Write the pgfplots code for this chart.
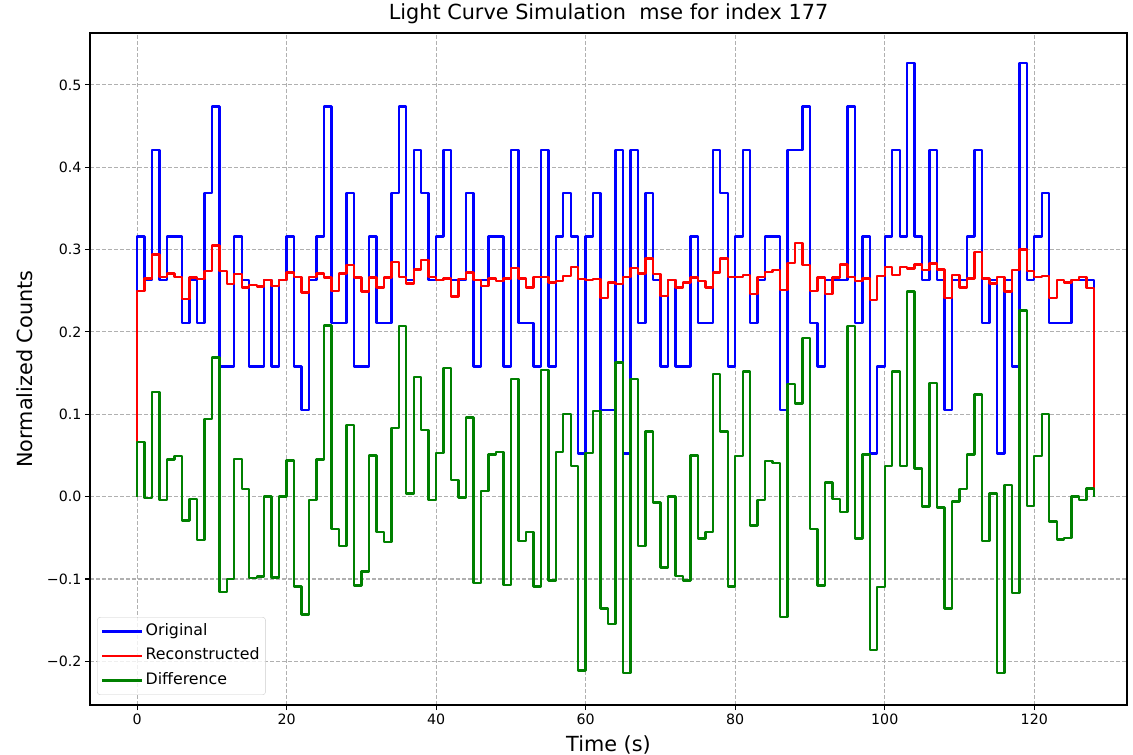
\documentclass[border=0pt]{standalone}
\usepackage{pgfplots}
\usepackage{pgfplotstable}
\pgfplotsset{compat=1.18}
\usepackage{fontspec}
\setmainfont{DejaVu Sans}
\definecolor{mplgreen}{RGB}{0,128,0}

\pgfplotstableread{
t o r d
0 0 0 0
0 0.31579 0.250 0.066
1 0.26316 0.265 -0.002
2 0.42105 0.294 0.127
3 0.26316 0.267 -0.004
4 0.31579 0.271 0.045
5 0.31579 0.267 0.049
6 0.21053 0.240 -0.029
7 0.26316 0.266 -0.003
8 0.21053 0.264 -0.053
9 0.36842 0.274 0.094
10 0.47368 0.305 0.169
11 0.15789 0.274 -0.116
12 0.15789 0.258 -0.100
13 0.31579 0.270 0.046
14 0.26316 0.254 0.009
15 0.15789 0.257 -0.099
16 0.15789 0.255 -0.097
17 0.26316 0.263 0.000
18 0.15789 0.256 -0.098
19 0.26316 0.263 0.000
20 0.31579 0.272 0.044
21 0.15789 0.267 -0.109
22 0.10526 0.248 -0.143
23 0.26316 0.267 -0.004
24 0.31579 0.271 0.045
25 0.47368 0.266 0.208
26 0.21053 0.250 -0.039
27 0.21053 0.271 -0.060
28 0.36842 0.281 0.087
29 0.15789 0.266 -0.108
30 0.15789 0.249 -0.091
31 0.31579 0.266 0.050
32 0.21053 0.254 -0.043
33 0.21053 0.266 -0.055
34 0.36842 0.285 0.083
35 0.47368 0.267 0.207
36 0.26316 0.259 0.004
37 0.42105 0.276 0.145
38 0.36842 0.287 0.081
39 0.26316 0.267 -0.004
40 0.31579 0.263 0.053
41 0.42105 0.265 0.156
42 0.26316 0.243 0.020
43 0.26316 0.264 -0.001
44 0.36842 0.272 0.096
45 0.15789 0.263 -0.105
46 0.26316 0.256 0.007
47 0.31579 0.265 0.051
48 0.31579 0.262 0.054
49 0.15789 0.265 -0.107
50 0.42105 0.278 0.143
51 0.21053 0.265 -0.054
52 0.21053 0.254 -0.043
53 0.15789 0.267 -0.109
54 0.42105 0.267 0.154
55 0.15789 0.260 -0.102
56 0.31579 0.262 0.054
57 0.36842 0.268 0.100
58 0.31579 0.279 0.037
59 0.05263 0.264 -0.211
60 0.31579 0.263 0.053
61 0.36842 0.264 0.104
62 0.10526 0.241 -0.136
63 0.10526 0.260 -0.155
64 0.42105 0.258 0.163
65 0.05263 0.267 -0.214
66 0.42105 0.278 0.143
67 0.21053 0.271 -0.060
68 0.36842 0.289 0.079
69 0.26316 0.270 -0.007
70 0.15789 0.244 -0.086
71 0.26316 0.263 0.000
72 0.15789 0.254 -0.096
73 0.15789 0.260 -0.102
74 0.31579 0.266 0.050
75 0.21053 0.262 -0.051
76 0.21053 0.254 -0.043
77 0.42105 0.272 0.149
78 0.36842 0.289 0.079
79 0.15789 0.267 -0.109
80 0.31579 0.267 0.049
81 0.42105 0.269 0.152
82 0.21053 0.246 -0.035
83 0.26316 0.267 -0.004
84 0.31579 0.273 0.043
85 0.31579 0.275 0.041
86 0.10526 0.251 -0.146
87 0.42105 0.284 0.137
88 0.42105 0.308 0.113
89 0.47368 0.281 0.193
90 0.21053 0.250 -0.039
91 0.15789 0.266 -0.108
92 0.26316 0.246 0.017
93 0.26316 0.266 -0.003
94 0.26316 0.282 -0.019
95 0.47368 0.267 0.207
96 0.21053 0.262 -0.051
97 0.31579 0.265 0.051
98 0.05263 0.239 -0.186
99 0.15789 0.268 -0.110
100 0.31579 0.279 0.037
101 0.42105 0.269 0.152
102 0.31579 0.279 0.037
103 0.52632 0.277 0.249
104 0.31579 0.282 0.034
105 0.26316 0.275 -0.012
106 0.42105 0.283 0.138
107 0.26316 0.276 -0.013
108 0.10526 0.241 -0.136
109 0.26316 0.269 -0.006
110 0.26316 0.254 0.009
111 0.31579 0.265 0.051
112 0.42105 0.297 0.124
113 0.21053 0.265 -0.054
114 0.26316 0.259 0.004
115 0.05263 0.267 -0.214
116 0.26316 0.249 0.014
117 0.15789 0.275 -0.117
118 0.52632 0.300 0.226
119 0.26316 0.274 -0.011
120 0.31579 0.267 0.049
121 0.36842 0.268 0.100
122 0.21053 0.241 -0.030
123 0.21053 0.263 -0.052
124 0.21053 0.260 -0.050
125 0.26316 0.263 0.000
126 0.26316 0.267 -0.004
127 0.26316 0.253 0.010
128 0.26316 0.253 0.010
128 0 0 0
}\lc

\begin{document}
\begin{tikzpicture}
\begin{axis}[
  at={(0pt,0pt)}, anchor=south west,
  scale only axis, width=1037pt, height=672pt,
  xmin=-6.3, xmax=132.4, ymin=-0.253, ymax=0.563,
  xtick={0,20,40,60,80,100,120},
  xticklabels={0,20,40,60,80,100,120},
  ytick={-0.2,-0.1,0,0.1,0.2,0.3,0.4,0.5},
  yticklabels={−0.2,−0.1,0.0,0.1,0.2,0.3,0.4,0.5},
  tick align=outside, major tick length=5pt,
  tick style={black, line width=1.1pt},
  xtick pos=bottom, ytick pos=left,
  ticklabel style={font=\fontsize{14.2}{16}\selectfont},
  grid=major,
  major grid style={draw=black!31, dash pattern=on 4pt off 2pt, line width=1.1pt},
  axis line style={line width=1.1pt},
  title={Light Curve Simulation\ \ mse for index 177},
  title style={font=\fontsize{20.8}{24}\selectfont, at={(axis description cs:0.5,1)}, anchor=base, yshift=7pt},
  xlabel={Time (s)},
  xlabel style={font=\fontsize{20.8}{24}\selectfont, at={(axis description cs:0.5,0)}, anchor=base, yshift=-46pt},
  ylabel={Normalized Counts},
  ylabel style={font=\fontsize{20.8}{24}\selectfont, at={(axis description cs:-0.0559,0.5)}, anchor=base, rotate=0},
  legend cell align=left,
  legend image code/.code={\draw[#1, line width=2.4pt] (0pt,0pt) -- (30pt,0pt); \path (0pt,0pt) -- (40pt,0pt);},
  legend style={at={(axis description cs:0.0068,0.0149)}, anchor=south west,
    draw=black!20, rounded corners=3pt, fill=white, fill opacity=0.8, text opacity=1,
    font=\fontsize{15.8}{18}\selectfont, inner xsep=4pt, inner ysep=2pt, row sep=0pt,
    nodes={inner ysep=5pt, text height=11pt, text depth=3.5pt}},
]
\addplot[blue, line width=2.4pt, const plot, line join=round] table[x=t, y=o] {\lc};
\addlegendentry{Original}
\addplot[red, line width=2.4pt, const plot, line join=round] table[x=t, y=r] {\lc};
\addlegendentry{Reconstructed}
\addplot[mplgreen, line width=2.4pt, const plot, line join=round] table[x=t, y=d] {\lc};
\addlegendentry{Difference}
\end{axis}
\pgfresetboundingbox
\useasboundingbox (-90pt,-50pt) rectangle (1043pt,705pt);
\end{tikzpicture}
\end{document}
